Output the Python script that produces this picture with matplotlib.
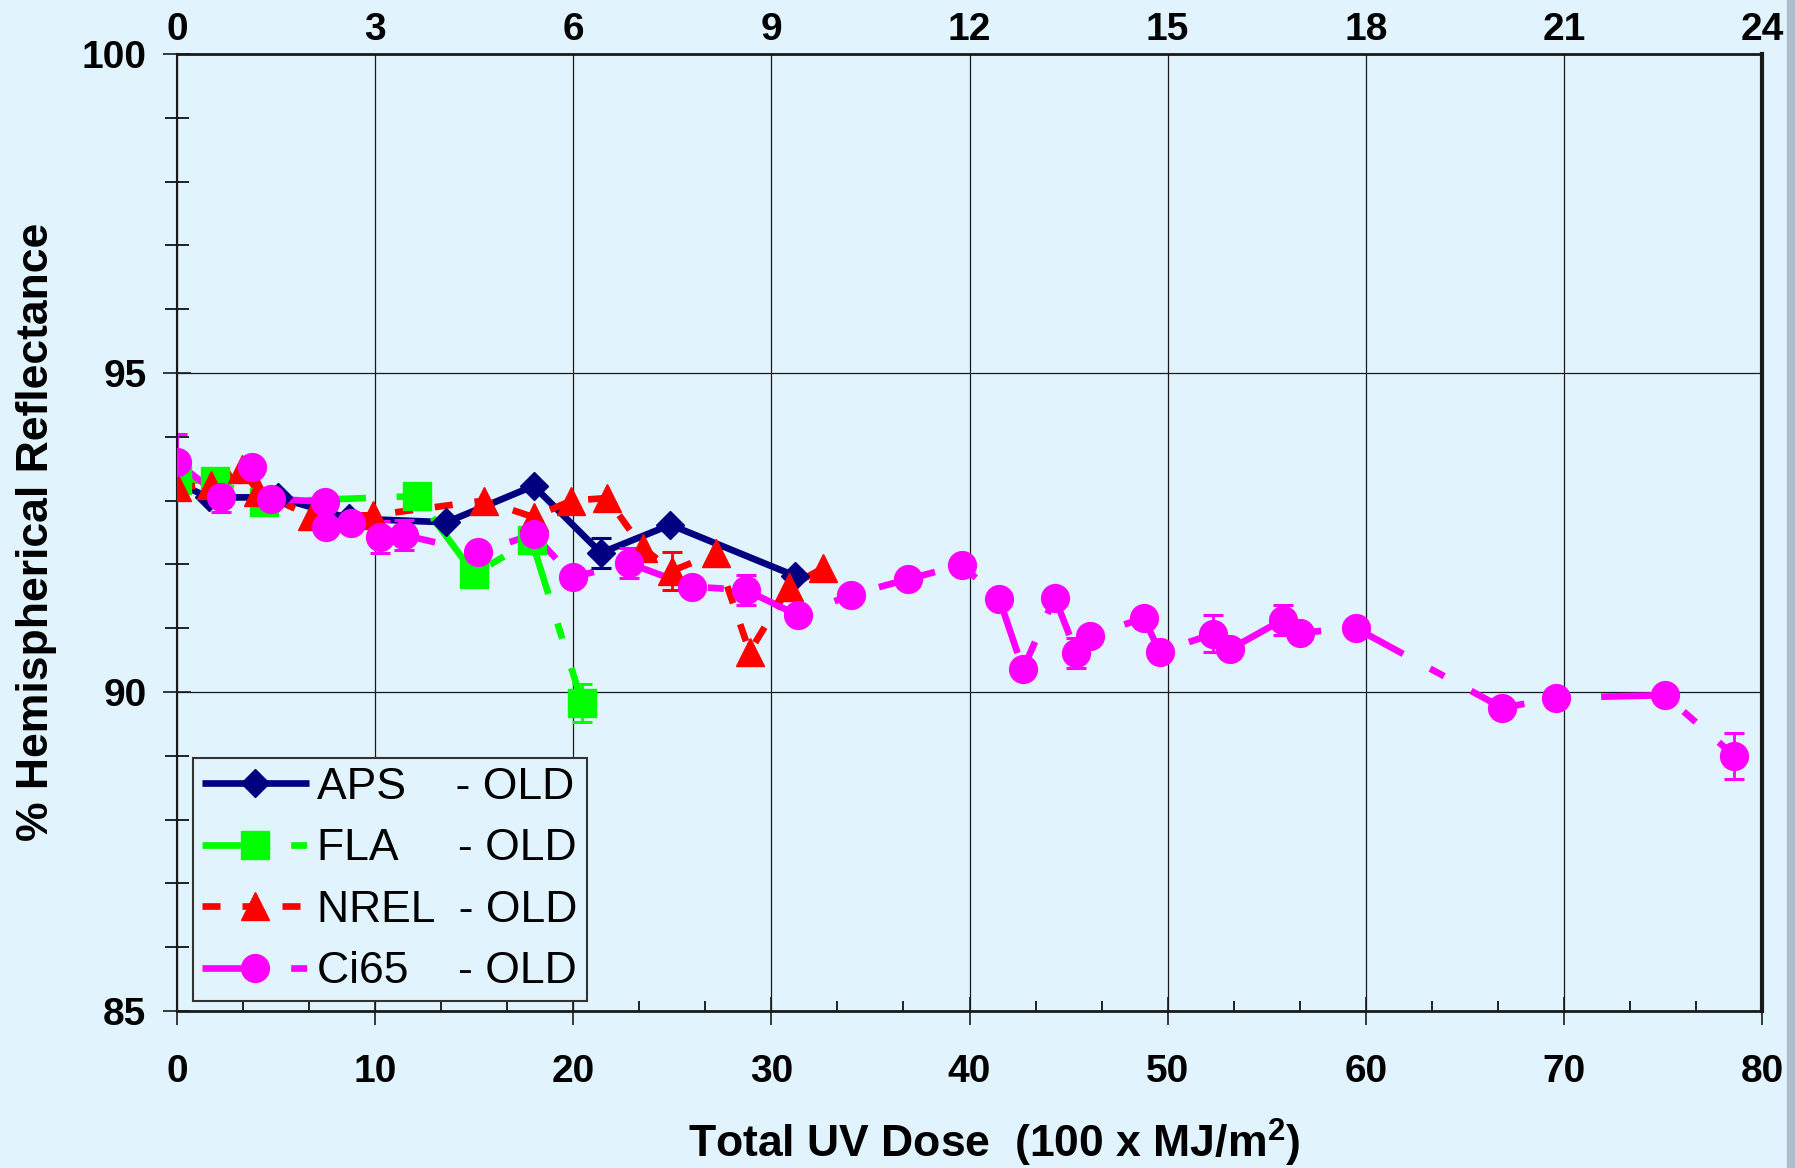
import numpy as np
import matplotlib
matplotlib.use('Agg')
import matplotlib.pyplot as plt
from matplotlib.lines import Line2D
from matplotlib.patches import Rectangle
from matplotlib.ticker import MultipleLocator

plt.rcParams['font.family'] = ['Liberation Sans', 'DejaVu Sans']
plt.rcParams['font.weight'] = 'bold'
plt.rcParams['mathtext.fontset'] = 'custom'
plt.rcParams['mathtext.rm'] = 'Liberation Sans:bold'
plt.rcParams['mathtext.bf'] = 'Liberation Sans:bold'

# total UV dose (100 x MJ/m^2) vs % hemispherical reflectance
aps_x = [0, 1.6, 5.1, 8.7, 13.6, 18.0, 21.4, 24.9, 31.2]
aps_y = [93.28, 93.05, 93.05, 92.72, 92.66, 93.23, 92.18, 92.62, 91.82]
aps_err = [0, 0, 0, 0, 0, 0, 0.23, 0, 0]

fla_x = [0, 1.9, 4.4, 12.1, 15.0, 17.9, 20.45]
fla_y = [93.32, 93.31, 92.98, 93.07, 91.85, 92.38, 89.83]
fla_err = [0, 0, 0, 0, 0, 0, 0.3]

nrel_x = [0, 1.7, 3.3, 4.1, 6.8, 9.9, 15.5, 18.0, 19.9, 21.7, 23.5, 25.0,
          27.2, 28.9, 30.9, 32.6]
nrel_y = [93.22, 93.24, 93.5, 93.13, 92.76, 92.77, 93.0, 92.74, 93.0, 93.04,
          92.26, 91.9, 92.18, 90.63, 91.65, 91.94]
nrel_err = [0, 0, 0, 0, 0, 0, 0, 0, 0, 0, 0, 0.3, 0, 0, 0, 0]

ci65_x = [0, 2.2, 3.8, 4.75, 7.45, 7.5, 8.8, 10.25, 11.45, 15.2,
          18.0, 20.0, 22.8, 26.0, 28.7, 31.35, 34.0, 36.9, 39.6, 41.5,
          42.7, 44.3, 45.4, 46.1, 48.8, 49.6, 52.3, 53.15, 55.8, 56.7,
          59.5, 66.9, 69.6, 75.1, 78.6]
ci65_y = [93.6, 93.06, 93.53, 93.03, 92.98, 92.59, 92.65, 92.43, 92.46, 92.19,
          92.47, 91.8, 92.02, 91.65, 91.6, 91.2, 91.52, 91.77, 91.99, 91.46,
          90.36, 91.48, 90.61, 90.88, 91.16, 90.63, 90.91, 90.67, 91.13, 90.93,
          91.0, 89.75, 89.91, 89.95, 89.0]
ci65_err = [0.45, 0.24, 0, 0, 0, 0, 0, 0.25, 0.24, 0,
            0, 0, 0.23, 0, 0.23, 0, 0, 0, 0, 0,
            0, 0, 0.23, 0, 0, 0, 0.29, 0, 0.23, 0,
            0, 0, 0, 0, 0.36]

labels = ['APS    - OLD', 'FLA     - OLD', 'NREL  - OLD', 'Ci65    - OLD']

BG = '#E1F3FC'
LW = 4.8
long_dash_dot = (0, (8.7, 4.6, 2.4, 4.6))
dashed = (0, (2.7, 3.3))

series = [
    (aps_x, aps_y, aps_err, '#000080', '-', 'D', 14),
    (fla_x, fla_y, fla_err, '#00FF00', long_dash_dot, 's', 19.5),
    (nrel_x, nrel_y, nrel_err, '#FF0000', dashed, '^', 20),
    (ci65_x, ci65_y, ci65_err, '#FF00FF', long_dash_dot, 'o', 20),
]

W, H = 1795, 1168
fig = plt.figure(figsize=(W / 100, H / 100), dpi=100, facecolor=BG)
fig.patches.append(Rectangle((1787 / W, 0), 8 / W, 1, transform=fig.transFigure,
                             color='#aebccb', zorder=0))
ax = fig.add_axes([177 / W, 1 - 1011 / H, 1585 / W, 957 / H])
ax.set_facecolor(BG)

handles = []
for i, (x, y, err, col, ls, mk, ms) in enumerate(series):
    x, y, err = np.array(x), np.array(y), np.array(err)
    ax.plot(x, y, color=col, lw=LW, ls=ls, zorder=2,
            solid_capstyle='butt', dash_capstyle='butt')
    m = err > 0
    ax.errorbar(x[m], y[m], yerr=err[m], fmt='none', ecolor=col,
                elinewidth=2, capsize=7, capthick=2.2, zorder=2.5)
    ax.plot(x, y, ls='none', marker=mk, ms=ms, color=col, mec=col,
            zorder=3 + 0.1 * i)
    handles.append(Line2D([], [], color=col, lw=LW, ls=ls, marker=mk, ms=ms,
                          mec=col, solid_capstyle='butt', dash_capstyle='butt'))

ax.set_xlim(0, 80)
ax.set_ylim(85, 100)
ax.xaxis.set_major_locator(MultipleLocator(10))
ax.xaxis.set_minor_locator(MultipleLocator(10 / 3))
ax.yaxis.set_major_locator(MultipleLocator(5))
ax.yaxis.set_minor_locator(MultipleLocator(1))
ax.grid(True, which='major', color='#1a1a1a', lw=0.9, zorder=1)
ax.set_axisbelow(True)

ax.tick_params(axis='both', which='major', direction='inout', length=20,
               width=1.2, labelsize=28, color='#1a1a1a')
ax.tick_params(axis='x', which='major', pad=21)
ax.tick_params(axis='y', which='major', pad=12)
ax.tick_params(axis='x', which='minor', direction='in', length=7, width=1.2)
ax.tick_params(axis='y', which='minor', direction='inout', length=17, width=1.2)

for side, lw in [('left', 1.5), ('bottom', 2), ('top', 2), ('right', 3)]:
    ax.spines[side].set_linewidth(lw)
    ax.spines[side].set_color('#1a1a1a')

top = ax.secondary_xaxis('top', functions=(lambda v: v * 0.3, lambda v: v / 0.3))
top.set_xticks(range(0, 25, 3))
top.tick_params(length=0, pad=4, labelsize=28)
top.spines['top'].set_visible(False)

fig.text(994 / W, 1 - 1143 / H, 'Total UV Dose  (100 x MJ/m$^{\\mathbf{2}}$)',
         ha='center', va='center', fontsize=32, fontweight='bold')
fig.text(37 / W, 1 - 532 / H, '% Hemispherical Reflectance', rotation=90,
         ha='center', va='center', fontsize=32, fontweight='bold')

leg = ax.legend(handles, labels, loc='upper left',
                bbox_to_anchor=(193 / W, 1 - 758 / H), bbox_transform=fig.transFigure,
                prop={'family': 'Liberation Sans', 'weight': 'normal', 'size': 32},
                frameon=True, fancybox=False, edgecolor='#333333', facecolor=BG,
                framealpha=1, borderaxespad=0, borderpad=0.2, labelspacing=0.46,
                handlelength=2.4, handletextpad=0.2)
leg.get_frame().set_linewidth(1.5)

fig.savefig('out.png', dpi=100, facecolor=BG)
